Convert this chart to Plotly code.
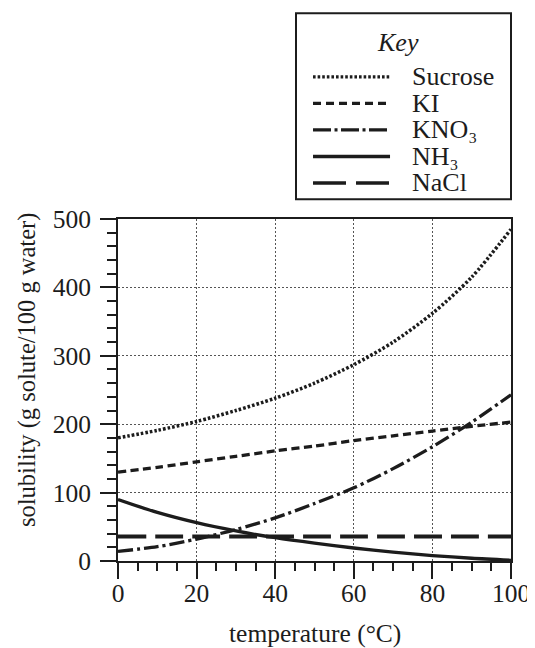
import plotly.graph_objects as go

# ---- data ----
temperature = [0, 10, 20, 30, 40, 50, 60, 70, 80, 90, 100]
sucrose = [180, 191, 204, 220, 238, 260, 287, 320, 362, 415, 485]
ki = [130, 137, 145, 153, 161, 168, 176, 183, 190, 197, 203]
kno3 = [14, 21, 32, 46, 63, 84, 107, 135, 167, 203, 243]
nh3 = [90, 71, 56, 44, 34, 26, 19, 13, 8, 4, 1]
nacl = [36, 36, 36, 36, 36, 36, 36, 36, 36, 36, 36]

series_names = ["Sucrose", "KI", "KNO₃", "NH₃", "NaCl"]
series_values = [sucrose, ki, kno3, nh3, nacl]

x_ticks = [0, 20, 40, 60, 80, 100]
y_ticks = [0, 100, 200, 300, 400, 500]

key_x = [0, 1]
key_rows = [0, 1, 2, 3, 4]

# ---- styles ----
INK = "#1c1c1c"
FONT = "Liberation Serif, Times New Roman, serif"
styles = [
    dict(dash="2.6px,2.0px", width=3.5),
    dict(dash="8px,4.5px", width=3.3),
    dict(dash="15px,4px,3px,4px", width=3.3),
    dict(dash="solid", width=3.3),
    dict(dash="28px,9px", width=4),
]
key_styles = [
    dict(dash="2.6px,2.0px", width=3.2),
    dict(dash="8px,5px", width=3.2),
    dict(dash="18px,3.5px,3px,3.5px", width=3.2),
    dict(dash="solid", width=3.4),
    dict(dash="33px,10px", width=3.6),
]

fig = go.Figure()

for name, vals, st in zip(series_names, series_values, styles):
    fig.add_trace(go.Scatter(
        x=temperature, y=vals, mode="lines", name=name,
        line=dict(color=INK, width=st["width"], dash=st["dash"], shape="spline", smoothing=0.8),
        showlegend=False, hoverinfo="skip", xaxis="x", yaxis="y",
    ))

# key samples drawn on their own small axes
for i, (name, st) in enumerate(zip(series_names, key_styles)):
    fig.add_trace(go.Scatter(
        x=key_x, y=[key_rows[i]] * 2, mode="lines",
        line=dict(color=INK, width=st["width"], dash=st["dash"]),
        showlegend=False, hoverinfo="skip", xaxis="x2", yaxis="y2",
    ))

# page offset from the default 8px body margin
OFF = 8
W, H = 535 - OFF, 648 - OFF
ml = 118 - OFF
mr = W - (511 - OFF)
mb = H - (561 - OFF)
mt = 0
ph = H - mt - mb
pw = W - ml - mr

def py(px):  # page pixel y -> paper y
    return (H - mb - (px - OFF)) / ph

def pxx(px):  # page pixel x -> paper x
    return ((px - OFF) - ml) / pw

annotations = []
for i, name in enumerate(series_names):
    annotations.append(dict(
        x=1.26, y=key_rows[i], xref="x2", yref="y2", text=name, showarrow=False,
        xanchor="left", yanchor="middle",
        font=dict(family=FONT, size=26, color=INK),
    ))
annotations.append(dict(
    x=1.104, y=-1.29, xref="x2", yref="y2", text="<i>Key</i>", showarrow=False,
    xanchor="center", yanchor="middle", font=dict(family=FONT, size=26, color=INK),
))
annotations.append(dict(
    x=0.5, y=py(633), xref="paper", yref="paper", text="temperature (°C)", showarrow=False,
    xanchor="center", yanchor="middle", font=dict(family=FONT, size=25.5, color=INK),
))
annotations.append(dict(
    x=pxx(27), y=py(370), xref="paper", yref="paper",
    text="solubility (g solute/100 g water)", showarrow=False, textangle=-90,
    xanchor="center", yanchor="middle", font=dict(family=FONT, size=24.5, color=INK),
))

axis_common = dict(
    ticks="outside", ticklen=16, tickwidth=2, tickcolor=INK,
    showline=True, linewidth=2, linecolor=INK, mirror=True,
    showgrid=True, gridcolor="#555", gridwidth=1.4, griddash="2px,2px",
    zeroline=False, fixedrange=True, automargin=False,
    tickfont=dict(family=FONT, size=25.5, color=INK),
)

fig.update_layout(
    template="none",
    width=W, height=H,
    margin=dict(l=ml, r=mr, t=mt, b=mb, pad=0, autoexpand=False),
    paper_bgcolor="white", plot_bgcolor="white",
    font=dict(family=FONT, size=25, color=INK),
    showlegend=False,
    xaxis=dict(
        domain=[0, 1], range=[0, 100], tickvals=x_ticks, ticktext=[str(v) for v in x_ticks],
        ticklabelstandoff=-8,
        minor=dict(dtick=5, ticks="outside", ticklen=8, tickwidth=2, tickcolor=INK, showgrid=False),
        **axis_common,
    ),
    yaxis=dict(
        domain=[0, py(219)], range=[0, 500], tickvals=y_ticks, ticktext=[str(v) for v in y_ticks],
        ticklabelstandoff=4,
        minor=dict(dtick=20, ticks="outside", ticklen=9, tickwidth=2, tickcolor=INK, showgrid=False),
        **axis_common,
    ),
    xaxis2=dict(domain=[pxx(296), 1], range=[-0.221, 2.571], visible=False, fixedrange=True),
    yaxis2=dict(domain=[py(199.3), py(13.3)], range=[4.615, -2.40], visible=False, fixedrange=True),
    shapes=[dict(
        type="rect", xref="paper", yref="paper",
        x0=pxx(296), x1=1, y0=py(199.3), y1=py(13.3),
        line=dict(color=INK, width=2), fillcolor="rgba(0,0,0,0)", layer="above",
    )],
    annotations=annotations,
)

fig.write_html("out.html")
